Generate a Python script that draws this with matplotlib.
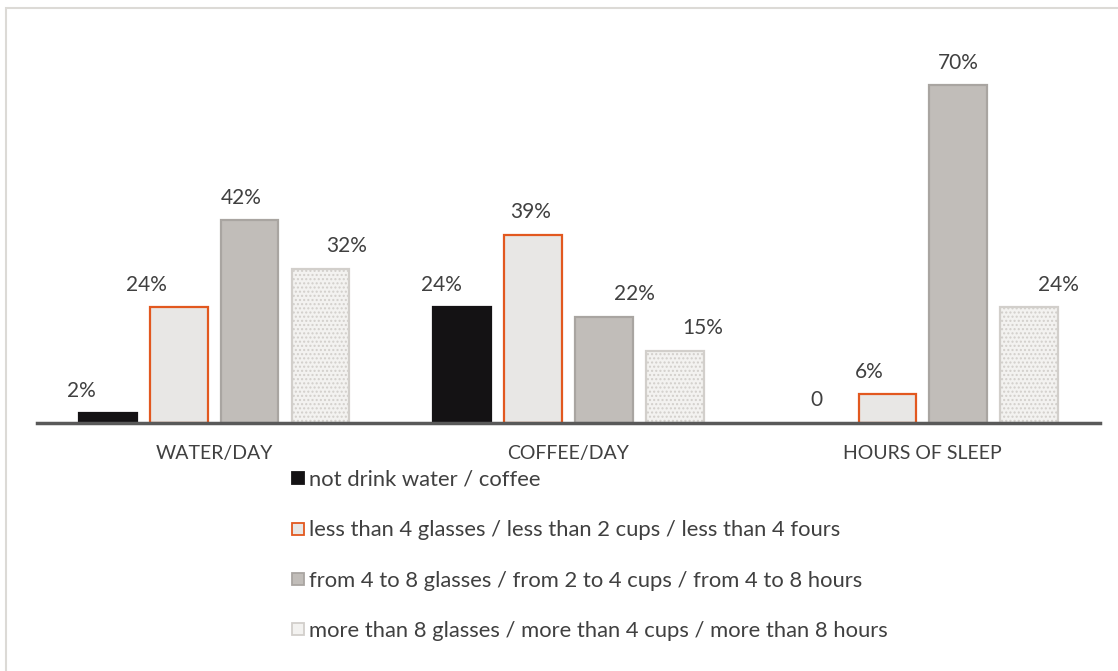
### Grouped bar chart: water, coffee and sleep habits ###
import numpy as np
import matplotlib.pyplot as plt
from matplotlib.lines import Line2D
from matplotlib.patches import Rectangle

# categories on the x-axis
categories = ['WATER/DAY', 'COFFEE/DAY', 'HOURS OF SLEEP']

# one list per answer group (percent)
not_drink = [2, 24, 0]
less_than = [24, 39, 6]
from_to = [42, 22, 70]
more_than = [32, 15, 24]

# text shown above each bar
labels_not_drink = ['2%', '24%', '0']
labels_less_than = ['24%', '39%', '6%']
labels_from_to = ['42%', '22%', '70%']
labels_more_than = ['32%', '15%', '24%']

legend_labels = ['not drink water / coffee',
                 'less than 4 glasses / less than 2 cups / less than 4 fours',
                 'from 4 to 8 glasses / from 2 to 4 cups / from 4 to 8 hours',
                 'more than 8 glasses / more than 4 cups / more than 8 hours']

plt.rcParams['font.family'] = ['Lato', 'DejaVu Sans']
plt.rcParams['hatch.color'] = '#e2dfdb'
text_col = '#404040'

fig = plt.figure(figsize=(11.18, 6.71), dpi=100)
ax = fig.add_axes([37 / 1118, 248 / 671, 1063 / 1118, 386 / 671])

# thin grey frame on the top and left of the picture
fig.patches.append(Rectangle((6 / 1118, -0.1), 1.2, (663 / 671) + 0.1,
                             transform=fig.transFigure, fill=False,
                             edgecolor='#dcdad6', lw=1.5))

x = np.arange(len(categories))
step = 0.2
width = 0.163

series = [
    (not_drink, labels_not_drink, '#141214', '#141214', None),
    (less_than, labels_less_than, '#e8e7e5', '#e2581f', None),
    (from_to, labels_from_to, '#c1bdb9', '#a9a5a1', None),
    (more_than, labels_more_than, '#f3f2f0', '#d2cfcb', '....'),
]
# sideways nudges of the value labels (in points)
label_dx = [[-19, -15, 0],
            [-23, -2, -13],
            [-6, 22, 0],
            [19, 20, 21]]

for i, (vals, labs, fc, ec, hatch) in enumerate(series):
    pos = x + (i - 1.5) * step
    lw = [1.6 if v > 0 else 0 for v in vals]
    bars = ax.bar(pos, vals, width, color=fc, edgecolor=ec, linewidth=lw,
                  hatch=hatch, zorder=2)
    for j, b in enumerate(bars):
        ax.annotate(labs[j], (b.get_x() + b.get_width() / 2, b.get_height()),
                    xytext=(label_dx[i][j], 9), textcoords='offset points',
                    ha='center', va='bottom', fontsize=15, color=text_col)

ax.set_xlim(-0.5, 2.5)
ax.set_ylim(0, 80)
ax.set_yticks([])
ax.set_xticks(x)
ax.set_xticklabels(categories, fontsize=14, color=text_col)
ax.tick_params(axis='x', length=0, pad=16)
for s in ['top', 'right', 'left']:
    ax.spines[s].set_visible(False)
ax.spines['bottom'].set_color('#595959')
ax.spines['bottom'].set_linewidth(2.5)
ax.spines['bottom'].set_zorder(3)

handles = [Line2D([], [], marker='s', ls='none', markersize=9,
                  markerfacecolor=fc, markeredgecolor=ec, markeredgewidth=1.3)
           for (_, _, fc, ec, _) in series]
fig.legend(handles, legend_labels, loc='upper left',
           bbox_to_anchor=(276 / 1118, 1 - 459 / 671), frameon=False,
           fontsize=15.8, labelcolor=text_col, handletextpad=0.0,
           handlelength=1.0, labelspacing=1.38, borderpad=0)

fig.savefig('out.png', dpi=100)
